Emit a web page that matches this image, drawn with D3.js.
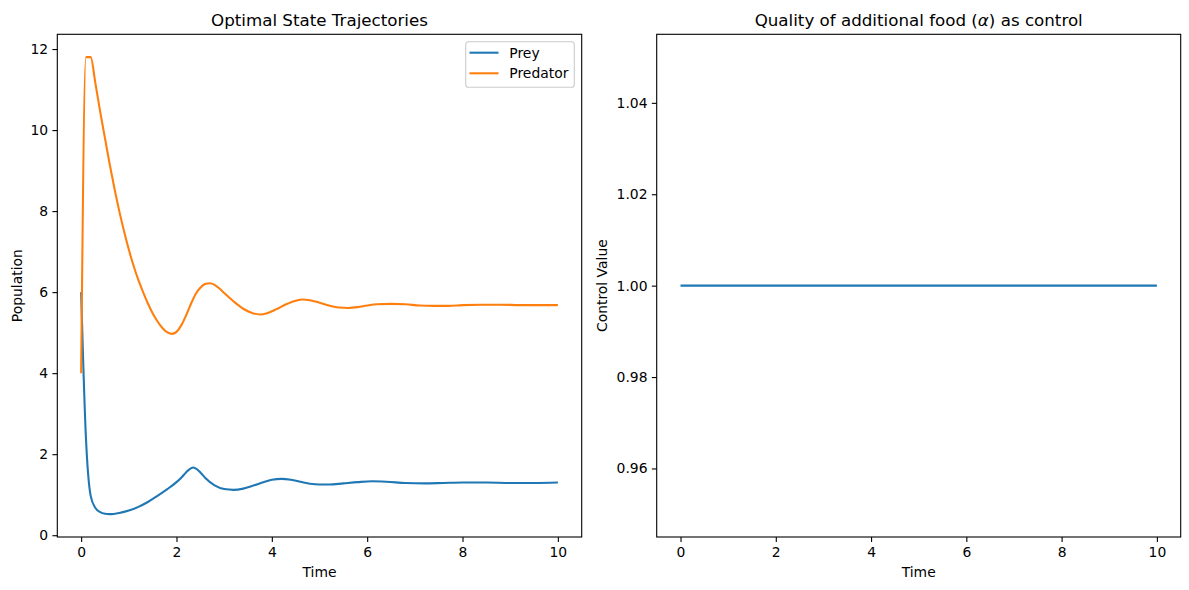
<!DOCTYPE html>
<html>
<head>
<meta charset="utf-8">
<script src="https://cdn.jsdelivr.net/npm/d3@7"></script>
<style>
  html, body { margin: 0; padding: 0; background: #fff; }
  svg { display: block; font-family: "DejaVu Sans", sans-serif; }
</style>
</head>
<body>
<svg id="chart" width="1189" height="590"></svg>
<script>
// ---------- data ----------
const preyTime = [0, 0.1, 0.2, 0.3, 0.4, 0.5, 0.6, 0.8, 1.0, 1.2, 1.4, 1.6, 1.8, 2.0, 2.1, 2.2, 2.3, 2.35, 2.4, 2.5, 2.6, 2.8, 3.0, 3.2, 3.4, 3.6, 3.8, 4.0, 4.2, 4.4, 4.6, 4.8, 5.0, 5.2, 5.5, 5.8, 6.1, 6.4, 6.8, 7.2, 7.6, 8.0, 8.5, 9.0, 9.5, 10];
const preyValues = [6.0, 2.42, 0.97, 0.67, 0.57, 0.53, 0.52, 0.55, 0.61, 0.70, 0.82, 0.97, 1.13, 1.31, 1.42, 1.55, 1.65, 1.67, 1.65, 1.55, 1.42, 1.23, 1.14, 1.12, 1.15, 1.22, 1.30, 1.37, 1.39, 1.37, 1.32, 1.27, 1.25, 1.25, 1.28, 1.31, 1.33, 1.32, 1.29, 1.28, 1.29, 1.30, 1.30, 1.29, 1.29, 1.30];

const predTime = [0, 0.1, 0.2, 0.3, 0.4, 0.5, 0.6, 0.7, 0.8, 0.9, 1.0, 1.1, 1.2, 1.3, 1.4, 1.5, 1.6, 1.7, 1.8, 1.9, 2.0, 2.1, 2.2, 2.3, 2.4, 2.5, 2.6, 2.7, 2.8, 2.9, 3.0, 3.2, 3.4, 3.6, 3.75, 3.9, 4.1, 4.3, 4.5, 4.65, 4.8, 5.0, 5.2, 5.4, 5.6, 5.8, 6.0, 6.2, 6.5, 6.8, 7.1, 7.4, 7.7, 8.0, 8.4, 8.8, 9.2, 9.6, 10];
const predValues = [4.0, 11.8, 11.8, 11.15, 10.45, 9.8, 9.15, 8.55, 8.0, 7.5, 7.05, 6.65, 6.3, 6.0, 5.72, 5.48, 5.28, 5.12, 5.01, 4.97, 5.02, 5.18, 5.42, 5.70, 5.95, 6.11, 6.20, 6.22, 6.18, 6.09, 5.98, 5.77, 5.59, 5.48, 5.45, 5.48, 5.58, 5.70, 5.79, 5.82, 5.80, 5.74, 5.67, 5.62, 5.61, 5.63, 5.67, 5.70, 5.71, 5.70, 5.67, 5.66, 5.66, 5.68, 5.69, 5.69, 5.68, 5.68, 5.68];

const controlTime = [0, 10];
const controlValues = [1.0, 1.0];

const xTicks = [0, 2, 4, 6, 8, 10];
const leftYTicks = [0, 2, 4, 6, 8, 10, 12];
const rightYTicks = [0.96, 0.98, 1.00, 1.02, 1.04];
const seriesNames = ["Prey", "Predator"];
const seriesColors = ["#1f77b4", "#ff7f0e"];

// ---------- layout ----------
const svg = d3.select("#chart");
const FS = 13.9, TFS = 16.7, LW = 2.08;
const yTop = 34.3, yBottom = 537;
const L = {x0: 57.3, x1: 581.7};
const R = {x0: 656.7, x1: 1180.7};

function pad(lo, hi) { const m = (hi - lo) * 0.05; return [lo - m, hi + m]; }

function drawAxes(box, xs, ys, yTicks, yFmt, title, ylabel, ylabelX) {
  const g = svg.append("g");
  const xa = d3.axisBottom(xs).tickValues(xTicks).tickSize(4.9).tickPadding(3.5).tickFormat(d3.format("d"));
  const ya = d3.axisLeft(ys).tickValues(yTicks).tickSize(4.9).tickPadding(3.5).tickFormat(yFmt);
  const gx = g.append("g").attr("transform", `translate(0,${yBottom})`).call(xa);
  const gy = g.append("g").attr("transform", `translate(${box.x0},0)`).call(ya);
  [gx, gy].forEach(a => {
    a.select(".domain").remove();
    a.selectAll(".tick line").attr("stroke", "#000").attr("stroke-width", 1.1);
    a.selectAll(".tick text").attr("fill", "#000").style("font-size", FS + "px").style("font-family", "DejaVu Sans");
  });
  gx.selectAll(".tick text").attr("dy", "0.78em").attr("y", 9.2);
  gy.selectAll(".tick text").attr("x", -9.2);
  // frame
  g.append("rect").attr("x", box.x0).attr("y", yTop).attr("width", box.x1 - box.x0).attr("height", yBottom - yTop)
    .attr("fill", "none").attr("stroke", "#000").attr("stroke-width", 1.1);
  // labels
  const cx = (box.x0 + box.x1) / 2;
  g.append("text").attr("x", cx).attr("y", 577).attr("text-anchor", "middle").style("font-size", FS + "px").text("Time");
  g.append("text").attr("transform", `translate(${ylabelX},${(yTop + yBottom) / 2}) rotate(-90)`)
    .attr("text-anchor", "middle").style("font-size", FS + "px").text(ylabel);
  const t = g.append("text").attr("x", cx).attr("y", 26).attr("text-anchor", "middle").style("font-size", TFS + "px");
  title(t);
  return g;
}

// ---------- left chart ----------
const xL = d3.scaleLinear().domain(pad(0, 10)).range([L.x0, L.x1]);
const allVals = preyValues.concat(predValues);
const yL = d3.scaleLinear().domain(pad(d3.min(allVals), d3.max(allVals))).range([yBottom, yTop]);

drawAxes(L, xL, yL, leftYTicks, d3.format("d"), t => t.text("Optimal State Trajectories"), "Population", 21.5);

const lineL = (ts) => d3.line().x((d, i) => xL(ts[i])).y(d => yL(d)).curve(d3.curveMonotoneX);
const seriesData = [[preyTime, preyValues], [predTime, predValues]];
seriesData.forEach(([ts, vs], i) => {
  svg.append("path").datum(vs).attr("d", lineL(ts)).attr("fill", "none")
    .attr("stroke", seriesColors[i]).attr("stroke-width", LW).attr("stroke-linejoin", "round");
});

// legend
const lg = svg.append("g");
lg.append("rect").attr("x", 465.7).attr("y", 41.7).attr("width", 108.6).attr("height", 45.6).attr("rx", 2.8)
  .attr("fill", "#fff").attr("fill-opacity", 0.8).attr("stroke", "#cccccc").attr("stroke-width", 1.1);
seriesNames.forEach((name, i) => {
  const yy = 52.7 + i * 20.6;
  lg.append("line").attr("x1", 469.5).attr("x2", 498.5).attr("y1", yy).attr("y2", yy)
    .attr("stroke", seriesColors[i]).attr("stroke-width", LW);
  lg.append("text").attr("x", 509.3).attr("y", yy).attr("dy", "0.35em").style("font-size", FS + "px").text(name);
});

// ---------- right chart ----------
const xR = d3.scaleLinear().domain(pad(0, 10)).range([R.x0, R.x1]);
const yR = d3.scaleLinear().domain([0.945, 1.055]).range([yBottom, yTop]);
drawAxes(R, xR, yR, rightYTicks, d3.format(".2f"), t => {
  t.append("tspan").text("Quality of additional food (");
  t.append("tspan").style("font-style", "italic").text("α");
  t.append("tspan").text(") as control");
}, "Control Value", 606.5);

svg.append("path").datum(controlValues)
  .attr("d", d3.line().x((d, i) => xR(controlTime[i])).y(d => yR(d)))
  .attr("fill", "none").attr("stroke", seriesColors[0]).attr("stroke-width", LW);
</script>
</body>
</html>
